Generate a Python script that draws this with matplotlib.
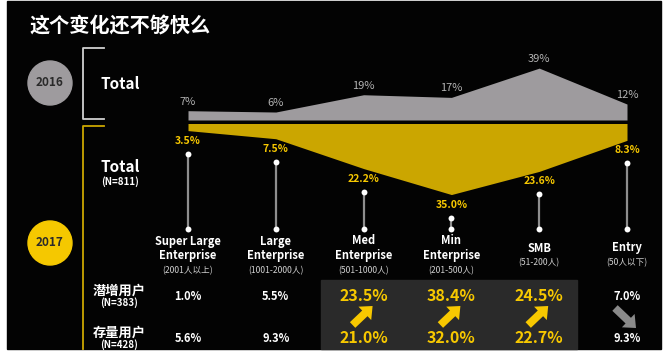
import matplotlib
matplotlib.use('Agg')
import matplotlib.pyplot as plt
from matplotlib.patches import Rectangle, Circle

plt.rcParams['font.family'] = ['Noto Sans CJK SC', 'DejaVu Sans']

# ---------------- data ----------------
title = "这个变化还不够快么"
year_2016 = "2016"
year_2017 = "2017"
categories = ["Super Large\nEnterprise", "Large\nEnterprise", "Med\nEnterprise",
              "Min\nEnterprise", "SMB", "Entry"]
sub_labels = ["(2001人以上)", "(1001-2000人)", "(501-1000人)", "(201-500人)",
              "(51-200人)", "(50人以下)"]
share_2016 = [7, 6, 19, 17, 39, 12]
share_2017 = [3.5, 7.5, 22.2, 35.0, 23.6, 8.3]
row_labels = ["潜增用户", "存量用户"]
row_n = ["(N=383)", "(N=428)"]
new_users = [1.0, 5.5, 23.5, 38.4, 24.5, 7.0]
existing_users = [5.6, 9.3, 21.0, 32.0, 22.7, 9.3]
trend = [None, None, "up", "up", "up", "down"]
total_2017_n = "(N=811)"

# ---------------- styles ----------------
W, H = 670, 356
BLACK = "#030303"
GRAY_AREA = "#9e9b9e"
GOLD_AREA = "#cba600"
YELLOW_TXT = "#f7c800"
YELLOW_CIRCLE = "#f5c800"
GRAY_TXT = "#b3b3b3"
BOX = "#2a2a2a"

fig = plt.figure(figsize=(W / 100, H / 100), dpi=100, facecolor="white")

bg = fig.add_axes([0, 0, 1, 1])
bg.set_xlim(0, W)
bg.set_ylim(H, 0)
bg.axis("off")
bg.add_patch(Rectangle((7, 1), 654, 348, color=BLACK, zorder=0))
bg.add_patch(Rectangle((321, 280), 256, 69, color=BOX, zorder=1))

# title
bg.text(30, 25, title, color="white", fontsize=14.5, fontweight="bold",
        va="center", ha="left")

# year circles + brackets
bg.add_patch(Circle((50, 83), 22, color=GRAY_AREA, zorder=2))
bg.text(50, 83, year_2016, color="#2a2a2a", fontsize=8.5, fontweight="bold",
        ha="center", va="center", zorder=3)
bg.add_patch(Circle((50, 243), 22, color=YELLOW_CIRCLE, zorder=2))
bg.text(50, 243, year_2017, color="#2a2a2a", fontsize=8.5, fontweight="bold",
        ha="center", va="center", zorder=3)
bg.plot([104, 83, 83, 104], [48, 48, 119, 119], color="#d0d0d0", lw=1.3)
bg.plot([104, 83, 83], [126, 126, 349], color=GOLD_AREA, lw=1.3)

bg.text(120, 84, "Total", color="white", fontsize=11, fontweight="bold",
        ha="center", va="center")
bg.text(120, 167, "Total", color="white", fontsize=11, fontweight="bold",
        ha="center", va="center")
bg.text(120, 182, total_2017_n, color="white", fontsize=7, fontweight="bold",
        ha="center", va="center")

# ---------------- 2016 area (up) ----------------
x_idx = list(range(len(categories)))
g_scale = 1.33  # px per %
g_top = 40
ax_g = fig.add_axes([188 / W, (H - 120) / H, 439 / W, g_top * g_scale / H])
ax_g.set_xlim(0, len(categories) - 1)
ax_g.set_ylim(0, g_top)
ax_g.axis("off")
ax_g.patch.set_alpha(0)
ax_g.fill_between(x_idx, 0, share_2016, color=GRAY_AREA, lw=0)

inv = bg.transData.inverted()
for i, v in enumerate(share_2016):
    px, py = inv.transform(ax_g.transData.transform((i, v)))
    bg.text(px, py - 9, f"{v}%", color=GRAY_TXT, fontsize=8,
            ha="center", va="center")

# ---------------- 2017 area (down) ----------------
y_scale = 2.03
y_top = 40
ax_y = fig.add_axes([188 / W, (H - 123.5 - y_top * y_scale) / H, 439 / W,
                     y_top * y_scale / H])
ax_y.set_xlim(0, len(categories) - 1)
ax_y.set_ylim(y_top, 0)
ax_y.axis("off")
ax_y.patch.set_alpha(0)
ax_y.fill_between(x_idx, 0, share_2017, color=GOLD_AREA, lw=0)

col_x = []
for i, v in enumerate(share_2017):
    px, py = inv.transform(ax_y.transData.transform((i, v)))
    col_x.append(px)
    dot_top = py + 23
    bg.plot([px, px], [dot_top, 229], color="#8e8e8e", lw=1.6, zorder=3)
    bg.scatter([px, px], [dot_top, 229], s=18, color="white", zorder=4, lw=0)
    bg.text(px, dot_top - 13, f"{v:.1f}%", color=YELLOW_TXT, fontsize=7.5,
            fontweight="bold", ha="center", va="center")

# category labels
for px, name, sub in zip(col_x, categories, sub_labels):
    lines = name.split("\n")
    if len(lines) == 2:
        bg.text(px, 241, lines[0], color="white", fontsize=8, fontweight="bold",
                ha="center", va="center")
        bg.text(px, 256, lines[1], color="white", fontsize=8, fontweight="bold",
                ha="center", va="center")
        bg.text(px, 271, sub, color="#d0d0d0", fontsize=6.2,
                ha="center", va="center")
    else:
        bg.text(px, 248, lines[0], color="white", fontsize=8, fontweight="bold",
                ha="center", va="center")
        bg.text(px, 263, sub, color="#d0d0d0", fontsize=6.2,
                ha="center", va="center")

# row labels
for (lab, n, ly) in zip(row_labels, row_n, [291, 333]):
    bg.text(119, ly, lab, color="white", fontsize=9.5, fontweight="bold",
            ha="center", va="center")
    bg.text(119, ly + 12, n, color="white", fontsize=7, fontweight="bold",
            ha="center", va="center")

# values rows
for px, a, b, t in zip(col_x, new_users, existing_users, trend):
    if t == "up":
        kw = dict(color=YELLOW_TXT, fontsize=11.5, fontweight="bold")
    else:
        kw = dict(color="white", fontsize=8, fontweight="bold")
    bg.text(px, 296, f"{a:.1f}%", ha="center", va="center", **kw)
    bg.text(px, 338, f"{b:.1f}%", ha="center", va="center", **kw)
    if t == "up":
        bg.annotate("", xy=(px + 9, 306), xytext=(px - 11, 325),
                    arrowprops=dict(arrowstyle="simple,head_length=0.55,head_width=0.95,tail_width=0.4",
                                    color=YELLOW_TXT, mutation_scale=14,
                                    shrinkA=0, shrinkB=0, lw=0))
    elif t == "down":
        bg.annotate("", xy=(px + 9, 328), xytext=(px - 12, 308),
                    arrowprops=dict(arrowstyle="simple,head_length=0.55,head_width=0.95,tail_width=0.4",
                                    color="#8a8a8a", mutation_scale=14,
                                    shrinkA=0, shrinkB=0, lw=0))

fig.savefig("out.png", dpi=100, facecolor="white")
